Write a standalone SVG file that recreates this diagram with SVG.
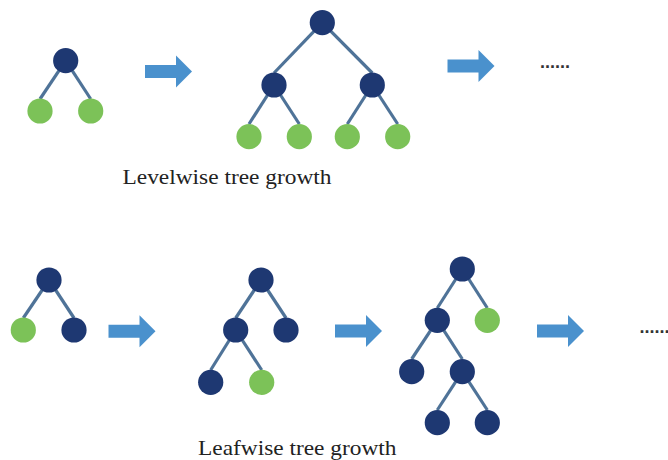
<svg xmlns="http://www.w3.org/2000/svg" width="668" height="460" viewBox="0 0 668 460">
  <defs>
    <style>
      .edge { stroke: #4f7398; stroke-width: 3.2; stroke-linecap: butt; fill: none; }
      .inner { fill: #1e3872; }
      .leaf { fill: #7cc258; }
      .arrow { fill: #4a91cd; }
      .caption { font-family: "Liberation Serif", "Times New Roman", serif; font-size: 21px; fill: #222; }
      .dots { font-family: "Liberation Sans", Arial, sans-serif; font-size: 18px; font-weight: bold; fill: #333; }
    </style>
    <!-- block arrow pointing right, origin at tail middle -->
    <path id="blockArrow" d="M0,-6.5 H31 V-16 L47,0 L31,16 V6.5 H0 Z"/>
  </defs>

  <rect width="668" height="460" fill="#ffffff"/>

  <!-- connectors: parent centre to child top -->
  <g id="connectors" class="edge">
    <!-- level-wise, step 1 -->
    <line x1="65.7" y1="60.7" x2="40" y2="99"/>
    <line x1="65.7" y1="60.7" x2="90.7" y2="99"/>
    <!-- level-wise, step 2 -->
    <line x1="322.3" y1="22.7" x2="274" y2="73"/>
    <line x1="322.3" y1="22.7" x2="372.3" y2="73"/>
    <line x1="274" y1="85" x2="249" y2="124"/>
    <line x1="274" y1="85" x2="299.3" y2="124"/>
    <line x1="372.3" y1="85" x2="347.3" y2="124"/>
    <line x1="372.3" y1="85" x2="397.7" y2="124"/>
    <!-- leaf-wise, step 1 -->
    <line x1="49" y1="280" x2="23.3" y2="318"/>
    <line x1="49" y1="280" x2="74" y2="318"/>
    <!-- leaf-wise, step 2 -->
    <line x1="261" y1="280" x2="235.7" y2="318"/>
    <line x1="261" y1="280" x2="286" y2="318"/>
    <line x1="235.7" y1="330" x2="210.7" y2="370"/>
    <line x1="235.7" y1="330" x2="261.7" y2="370"/>
    <!-- leaf-wise, step 3 -->
    <line x1="462.3" y1="269" x2="437.3" y2="308"/>
    <line x1="462.3" y1="269" x2="487.3" y2="308"/>
    <line x1="437.3" y1="320.3" x2="411.7" y2="359"/>
    <line x1="437.3" y1="320.3" x2="462.3" y2="359"/>
    <line x1="462.3" y1="371.7" x2="437.3" y2="410"/>
    <line x1="462.3" y1="371.7" x2="487.3" y2="410"/>
  </g>

  <!-- level-wise growth -->
  <g id="lw1">
    <circle class="inner" cx="65.7" cy="60.7" r="12.6"/>
    <circle class="leaf" cx="40" cy="111" r="12.6"/>
    <circle class="leaf" cx="90.7" cy="111" r="12.6"/>
  </g>
  <g id="lw-arrow1" class="arrow"><use href="#blockArrow" x="145" y="71.5"/></g>
  <g id="lw2">
    <circle class="inner" cx="322.3" cy="22.7" r="12.6"/>
    <circle class="inner" cx="274" cy="85" r="12.6"/>
    <circle class="inner" cx="372.3" cy="85" r="12.6"/>
    <circle class="leaf" cx="249" cy="136.7" r="12.6"/>
    <circle class="leaf" cx="299.3" cy="136.7" r="12.6"/>
    <circle class="leaf" cx="347.3" cy="136.7" r="12.6"/>
    <circle class="leaf" cx="397.7" cy="136.7" r="12.6"/>
  </g>
  <g id="lw-arrow2" class="arrow"><use href="#blockArrow" x="447.5" y="66"/></g>
  <g id="lw-more"><text class="dots" x="540" y="67.5" textLength="30" lengthAdjust="spacing">......</text></g>
  <g id="lw-caption"><text class="caption" x="122.5" y="184" textLength="209" lengthAdjust="spacingAndGlyphs">Levelwise tree growth</text></g>

  <!-- leaf-wise growth -->
  <g id="fw1">
    <circle class="inner" cx="49" cy="280" r="12.6"/>
    <circle class="leaf" cx="23.3" cy="330" r="12.6"/>
    <circle class="inner" cx="74" cy="330" r="12.6"/>
  </g>
  <g id="fw-arrow1" class="arrow"><use href="#blockArrow" x="108.5" y="331.3"/></g>
  <g id="fw2">
    <circle class="inner" cx="261" cy="280" r="12.6"/>
    <circle class="inner" cx="235.7" cy="330" r="12.6"/>
    <circle class="inner" cx="286" cy="330" r="12.6"/>
    <circle class="inner" cx="210.7" cy="382.3" r="12.6"/>
    <circle class="leaf" cx="261.7" cy="382.3" r="12.6"/>
  </g>
  <g id="fw-arrow2" class="arrow"><use href="#blockArrow" x="335" y="331"/></g>
  <g id="fw3">
    <circle class="inner" cx="462.3" cy="269" r="12.6"/>
    <circle class="inner" cx="437.3" cy="320.3" r="12.6"/>
    <circle class="leaf" cx="487.3" cy="320.3" r="12.6"/>
    <circle class="inner" cx="411.7" cy="371.7" r="12.6"/>
    <circle class="inner" cx="462.3" cy="371.7" r="12.6"/>
    <circle class="inner" cx="437.3" cy="422.7" r="12.6"/>
    <circle class="inner" cx="487.3" cy="422.7" r="12.6"/>
  </g>
  <g id="fw-arrow3" class="arrow"><use href="#blockArrow" x="537" y="331"/></g>
  <g id="fw-more"><text class="dots" x="639.5" y="333" textLength="30" lengthAdjust="spacing">......</text></g>
  <g id="fw-caption"><text class="caption" x="198" y="455" textLength="198.5" lengthAdjust="spacingAndGlyphs">Leafwise tree growth</text></g>
</svg>
